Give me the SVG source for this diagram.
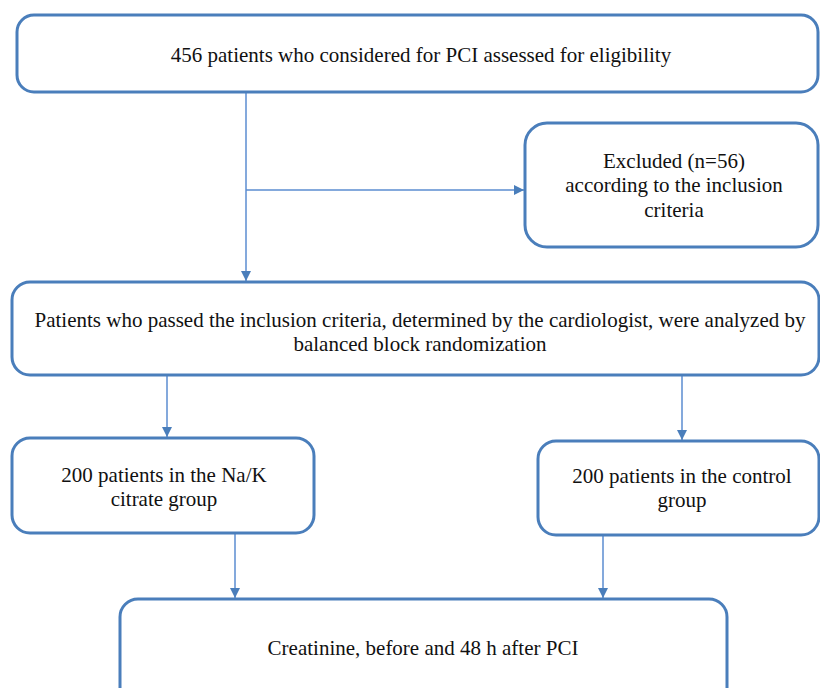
<svg xmlns="http://www.w3.org/2000/svg" width="820" height="688" viewBox="0 0 820 688">
<defs>
<style>
.box{fill:#fff;stroke:#4a7ebb;stroke-width:3}
.t{font-family:"Liberation Serif","Times New Roman",serif;font-size:21px;fill:#111;text-anchor:middle}
.c{stroke:#5b8dd0;stroke-width:1.5;fill:none}
</style>
<marker id="ah" viewBox="0 0 10 10" refX="10" refY="5" markerWidth="10" markerHeight="10" markerUnits="userSpaceOnUse" orient="auto">
<path d="M0,0 L10,5 L0,10 Z" fill="#4a7ebb"/>
</marker>
</defs>
<rect width="820" height="688" fill="#fff"/>
<g id="connectors">
<line class="c" x1="246" y1="92" x2="246" y2="281" marker-end="url(#ah)"/>
<line class="c" x1="246" y1="190" x2="524" y2="190" marker-end="url(#ah)"/>
<line class="c" x1="167" y1="375" x2="167" y2="437" marker-end="url(#ah)"/>
<line class="c" x1="682" y1="375" x2="682" y2="440" marker-end="url(#ah)"/>
<line class="c" x1="235" y1="533" x2="235" y2="598" marker-end="url(#ah)"/>
<line class="c" x1="603" y1="535" x2="603" y2="598" marker-end="url(#ah)"/>
</g>
<g id="node1">
<rect class="box" x="17" y="15" width="801" height="77" rx="17"/>
<text class="t" x="421" y="62">456 patients who considered for PCI assessed for eligibility</text>
</g>
<g id="node2">
<rect class="box" x="525" y="123" width="293" height="124" rx="22"/>
<text class="t" x="674" y="168">Excluded (n=56)</text>
<text class="t" x="674" y="192">according to the inclusion</text>
<text class="t" x="674" y="217">criteria</text>
</g>
<g id="node3">
<rect class="box" x="12" y="282" width="807" height="93" rx="18"/>
<text class="t" x="420" y="327">Patients who passed the inclusion criteria, determined by the cardiologist, were analyzed by</text>
<text class="t" x="420" y="351">balanced block randomization</text>
</g>
<g id="node4">
<rect class="box" x="12" y="438" width="302" height="95" rx="18"/>
<text class="t" x="164" y="482">200 patients in the Na/K</text>
<text class="t" x="164" y="506">citrate group</text>
</g>
<g id="node5">
<rect class="box" x="538" y="441" width="281" height="94" rx="18"/>
<text class="t" x="682" y="483">200 patients in the control</text>
<text class="t" x="682" y="507">group</text>
</g>
<g id="node6">
<rect class="box" x="120" y="599" width="607" height="110" rx="18"/>
<text class="t" x="423" y="655">Creatinine, before and 48 h after PCI</text>
</g>
</svg>
